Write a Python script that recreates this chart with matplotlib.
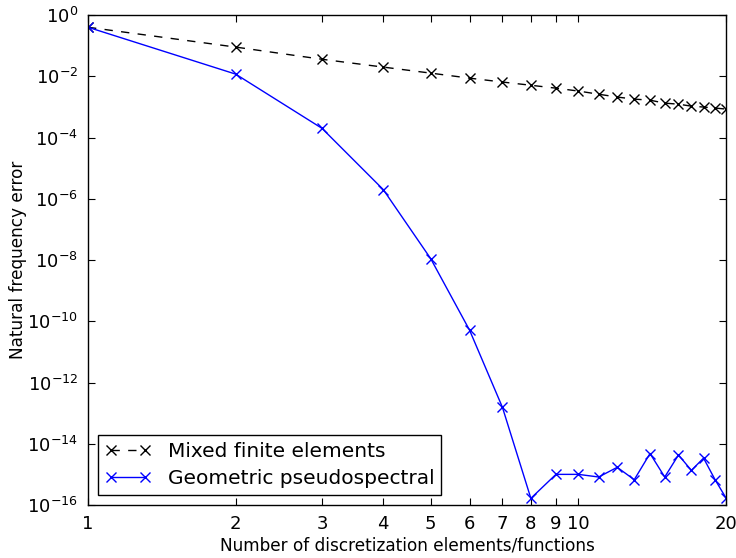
import numpy as np
import matplotlib
matplotlib.use("Agg")
from matplotlib import pyplot as plt
from matplotlib.ticker import FixedLocator, NullLocator

# number of elements / functions
n = np.arange(1, 21)

# errors
err_fe = [0.40, 0.090, 0.036, 0.020, 0.0127, 0.0087, 0.0065, 0.0051, 0.0041, 0.0033,
          0.0026, 0.0021, 0.0018, 0.00166, 0.00133, 0.00123, 0.00106, 0.00099, 0.00092, 0.00085]
err_ps = [0.40, 0.0118, 2.0e-4, 2.0e-6, 1.1e-8, 5.1e-11, 1.55e-13, 1.65e-16, 1.0e-15, 1.0e-15,
          8.2e-16, 1.7e-15, 6.7e-16, 4.8e-15, 8.2e-16, 4.3e-15, 1.35e-15, 3.4e-15, 6.7e-16, 1.7e-16]

xtick_vals = [1, 2, 3, 4, 5, 6, 7, 8, 9, 10, 20]
xtick_labels = ['1', '2', '3', '4', '5', '6', '7', '8', '9', '10', '20']
ytick_exp = [0, -2, -4, -6, -8, -10, -12, -14, -16]

fig = plt.figure(figsize=(7.36, 5.58), dpi=100)
ax = fig.add_axes([0.1196, 0.095, 0.8668, 0.878])

ax.plot(n, err_fe, color='k', ls='--', dashes=(6, 6), lw=1, marker='x', ms=7, mew=1,
        label='Mixed finite elements')
ax.plot(n, err_ps, color='b', ls='-', lw=1, marker='x', ms=7, mew=1,
        label='Geometric pseudospectral')

ax.set_xscale('log')
ax.set_yscale('log')
ax.set_xlim(1, 20)
ax.set_ylim(1e-16, 1e0)

ax.set_xticks(xtick_vals)
ax.set_xticklabels(xtick_labels)
ax.xaxis.set_minor_locator(NullLocator())
ax.yaxis.set_major_locator(FixedLocator([10.0 ** e for e in ytick_exp]))
ax.yaxis.set_minor_locator(NullLocator())

ax.tick_params(which='both', direction='in', top=True, right=True, length=5, width=0.8,
               labelsize=13, pad=7)
for s in ax.spines.values():
    s.set_linewidth(1.0)

ax.set_xlabel('Number of discretization elements/functions', fontsize=12.2, labelpad=3)
ax.set_ylabel('Natural frequency error', fontsize=12.2)
ax.yaxis.set_label_coords(-0.096, 0.5)

leg = ax.legend(loc='lower left', numpoints=2, fontsize=14.5, fancybox=False,
                framealpha=1, edgecolor='k', borderaxespad=0.5, handlelength=2.3,
                borderpad=0.35, labelspacing=0.4)
leg.get_frame().set_linewidth(1.0)

fig.savefig('out.png', dpi=100, facecolor='white')
